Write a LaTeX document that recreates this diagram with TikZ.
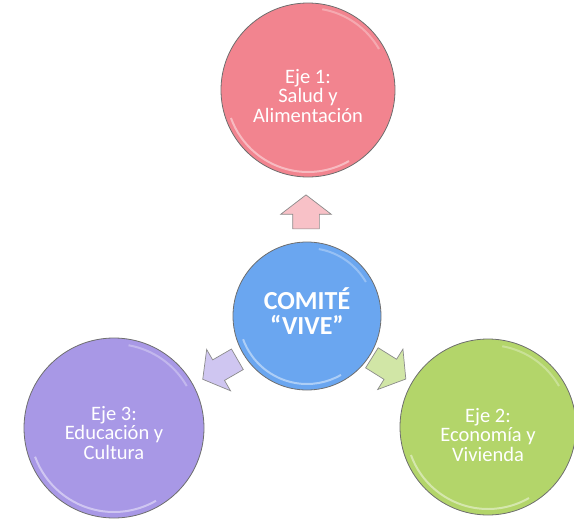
\documentclass[tikz,border=0pt]{standalone}
\usepackage{fontspec}
\setmainfont{Carlito}
\usetikzlibrary{shapes.arrows}
\definecolor{pinkc}{HTML}{F2848F}
\definecolor{bluec}{HTML}{6AA6F0}
\definecolor{purplec}{HTML}{A898E6}
\definecolor{greenc}{HTML}{B3D56A}
\definecolor{rimc}{HTML}{6E6E6E}
\tikzset{
  ball/.style={circle, draw=rimc, line width=0.8pt, inner sep=0pt},
  balltext/.style={text=white, align=center, inner sep=0pt, font=\fontsize{20.5}{19.5}\selectfont},
  blockarrow/.style={single arrow, draw=rimc!80, line width=0.7pt, single arrow head extend=12pt, single arrow tip angle=105, minimum height=34pt, inner sep=0pt},
  glare/.style={draw=white, opacity=0.45, line width=2pt}
}
\begin{document}
\begin{tikzpicture}[x=1pt,y=1pt]
\useasboundingbox (0,0) rectangle (574,-520);
% circles
\node[ball, fill=pinkc, minimum size=174pt] (salud) at (308,-90) {};
\node[ball, fill=bluec, minimum size=148pt] (comite) at (307,-316) {};
\node[ball, fill=purplec, minimum size=180pt] (educ) at (114,-428) {};
\node[ball, fill=greenc, minimum size=176pt] (econ) at (488,-427) {};
% glossy rims
\foreach \n/\r in {salud/82, comite/68, educ/84, econ/82}{
  \draw[glare] (\n.center) ++(200:\r) arc (200:300:\r);
  \draw[glare, opacity=0.3] (\n.center) ++(30:\r) arc (30:80:\r);
}
% texts
\node[balltext] (saludt) at ([yshift=-6pt]salud.center) {Eje 1:\\Salud y\\Alimentación};
\node[balltext, font=\bfseries\fontsize{26}{25}\selectfont] (comitet) at ([yshift=5pt]comite.center) {COMITÉ\\“VIVE”};
\node[balltext] (educt) at ([yshift=-5pt]educ.center) {Eje 3:\\Educación y\\Cultura};
\node[balltext] (econt) at ([yshift=-8pt]econ.center) {Eje 2:\\Economía y\\Vivienda};
% block arrows
\node[blockarrow, fill=pinkc!50, rotate=90] (a1) at (306,-217) {\rule{0pt}{26pt}};
\node[blockarrow, fill=purplec!55, rotate=210, minimum height=40pt] (a3) at (224,-367) {\rule{0pt}{23pt}};
\node[blockarrow, fill=greenc!60, rotate=-32, minimum height=40pt] (a2) at (385,-366) {\rule{0pt}{23pt}};
\end{tikzpicture}
\end{document}
